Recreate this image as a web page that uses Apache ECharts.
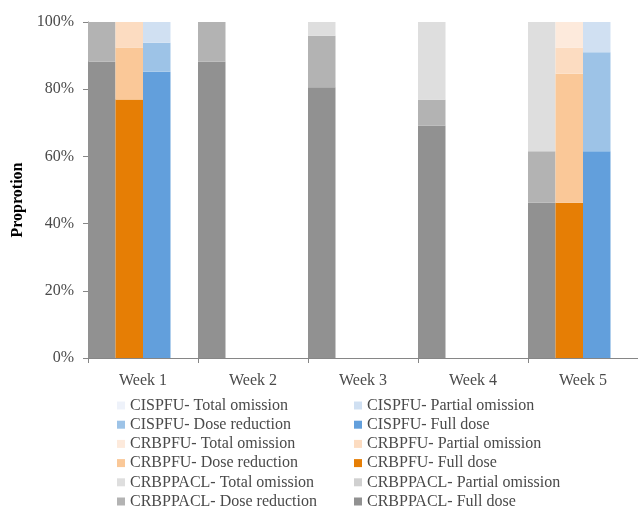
<!DOCTYPE html>
<html>
<head>
<meta charset="utf-8">
<script src="https://cdn.jsdelivr.net/npm/echarts@6/dist/echarts.min.js"></script>
<style>
  html, body { margin: 0; padding: 0; background: #ffffff; }
  #chart { width: 638px; height: 510px; }
</style>
</head>
<body>
<div id="chart"></div>
<script>
// Weekly dose delivery by regimen (percent of patients)
const weeks = ['Week 1', 'Week 2', 'Week 3', 'Week 4', 'Week 5'];
const yTicks = [0, 20, 40, 60, 80, 100];

// CRBPPACL
const crbppaclFull      = [88.2, 88.2, 80.6, 69.2, 46.2];
const crbppaclReduction = [11.8, 11.8, 15.3, 7.7, 15.3];
const crbppaclPartial   = [0, 0, 0, 0, 0];
const crbppaclTotal     = [0, 0, 4.1, 23.1, 38.5];

// CRBPFU (given in weeks 1 and 5 only)
const crbpfuFull      = [76.9, null, null, null, 46.2];
const crbpfuReduction = [15.4, null, null, null, 38.4];
const crbpfuPartial   = [7.7, null, null, null, 7.7];
const crbpfuTotal     = [0, null, null, null, 7.7];

// CISPFU (given in weeks 1 and 5 only)
const cispfuFull      = [85.2, null, null, null, 61.5];
const cispfuReduction = [8.6, null, null, null, 29.5];
const cispfuPartial   = [6.2, null, null, null, 9.0];
const cispfuTotal     = [0, null, null, null, 0];

const serif = '"Liberation Serif", "DejaVu Serif", serif';
const textGray = '#4a4a4a';

function barSeries(name, stack, data, color) {
  return {
    name: name,
    type: 'bar',
    stack: stack,
    data: data.map(v => (v === null ? '-' : v)),
    itemStyle: { color: color },
    emphasis: { disabled: true }
  };
}

const series = [
  barSeries('CRBPPACL- Full dose', 'paclitaxel', crbppaclFull, '#919191'),
  barSeries('CRBPPACL- Dose reduction', 'paclitaxel', crbppaclReduction, '#b3b3b3'),
  barSeries('CRBPPACL- Partial omission', 'paclitaxel', crbppaclPartial, '#d0d0d0'),
  barSeries('CRBPPACL- Total omission', 'paclitaxel', crbppaclTotal, '#dedede'),

  barSeries('CRBPFU- Full dose', 'carboFU', crbpfuFull, '#e67e05'),
  barSeries('CRBPFU- Dose reduction', 'carboFU', crbpfuReduction, '#fac898'),
  barSeries('CRBPFU- Partial omission', 'carboFU', crbpfuPartial, '#fcdcc1'),
  barSeries('CRBPFU- Total omission', 'carboFU', crbpfuTotal, '#fdeadc'),

  barSeries('CISPFU- Full dose', 'cisFU', cispfuFull, '#629fdc'),
  barSeries('CISPFU- Dose reduction', 'cisFU', cispfuReduction, '#9dc3e7'),
  barSeries('CISPFU- Partial omission', 'cisFU', cispfuPartial, '#d0e0f2'),
  barSeries('CISPFU- Total omission', 'cisFU', cispfuTotal, '#eef2fa'),

  // empty fourth slot in each week, keeps the three bars at the left of the band
  { name: 'spacer', type: 'bar', stack: 'spacer', data: weeks.map(() => '-'), silent: true }
];

const legendText = { fontFamily: serif, fontSize: 16, color: textGray, lineHeight: 17 };
const legendBase = {
  orient: 'vertical', top: 397, height: 150, itemWidth: 8, itemHeight: 8, itemGap: 2.2,
  padding: 0, icon: 'rect', textStyle: legendText, selectedMode: false
};

const chart = echarts.init(document.getElementById('chart'), null, { renderer: 'canvas' });
chart.setOption({
  animation: false,
  backgroundColor: '#ffffff',
  grid: { left: 88, top: 22, bottom: 152, width: 552, containLabel: false },
  legend: [
    Object.assign({}, legendBase, {
      left: 117,
      data: ['CISPFU- Total omission', 'CISPFU- Dose reduction', 'CRBPFU- Total omission',
             'CRBPFU- Dose reduction', 'CRBPPACL- Total omission', 'CRBPPACL- Dose reduction']
    }),
    Object.assign({}, legendBase, {
      left: 354,
      data: ['CISPFU- Partial omission', 'CISPFU- Full dose', 'CRBPFU- Partial omission',
             'CRBPFU- Full dose', 'CRBPPACL- Partial omission', 'CRBPPACL- Full dose']
    })
  ],
  xAxis: {
    type: 'category',
    data: weeks,
    boundaryGap: true,
    axisLine: { lineStyle: { color: '#868686', width: 1 } },
    axisTick: { show: true, length: 5, lineStyle: { color: '#868686' } },
    axisLabel: { fontFamily: serif, fontSize: 16, color: textGray, margin: 15 }
  },
  yAxis: {
    type: 'value',
    min: yTicks[0],
    max: yTicks[yTicks.length - 1],
    interval: yTicks[1] - yTicks[0],
    name: 'Proprotion',
    nameLocation: 'middle',
    nameGap: 61,
    nameTextStyle: { fontFamily: serif, fontSize: 16, fontWeight: 'bold', color: '#000000', padding: [0, 20, 0, 0] },
    axisLine: { show: true, lineStyle: { color: '#868686', width: 1 } },
    axisTick: { show: true, inside: false, length: 5, lineStyle: { color: '#868686' } },
    splitLine: { show: false },
    axisLabel: { fontFamily: serif, fontSize: 16, color: textGray, margin: 14, formatter: '{value}%' }
  },
  series: series.map(s => Object.assign(s, { barGap: '0%', barCategoryGap: '0%' }))
});
</script>
</body>
</html>
